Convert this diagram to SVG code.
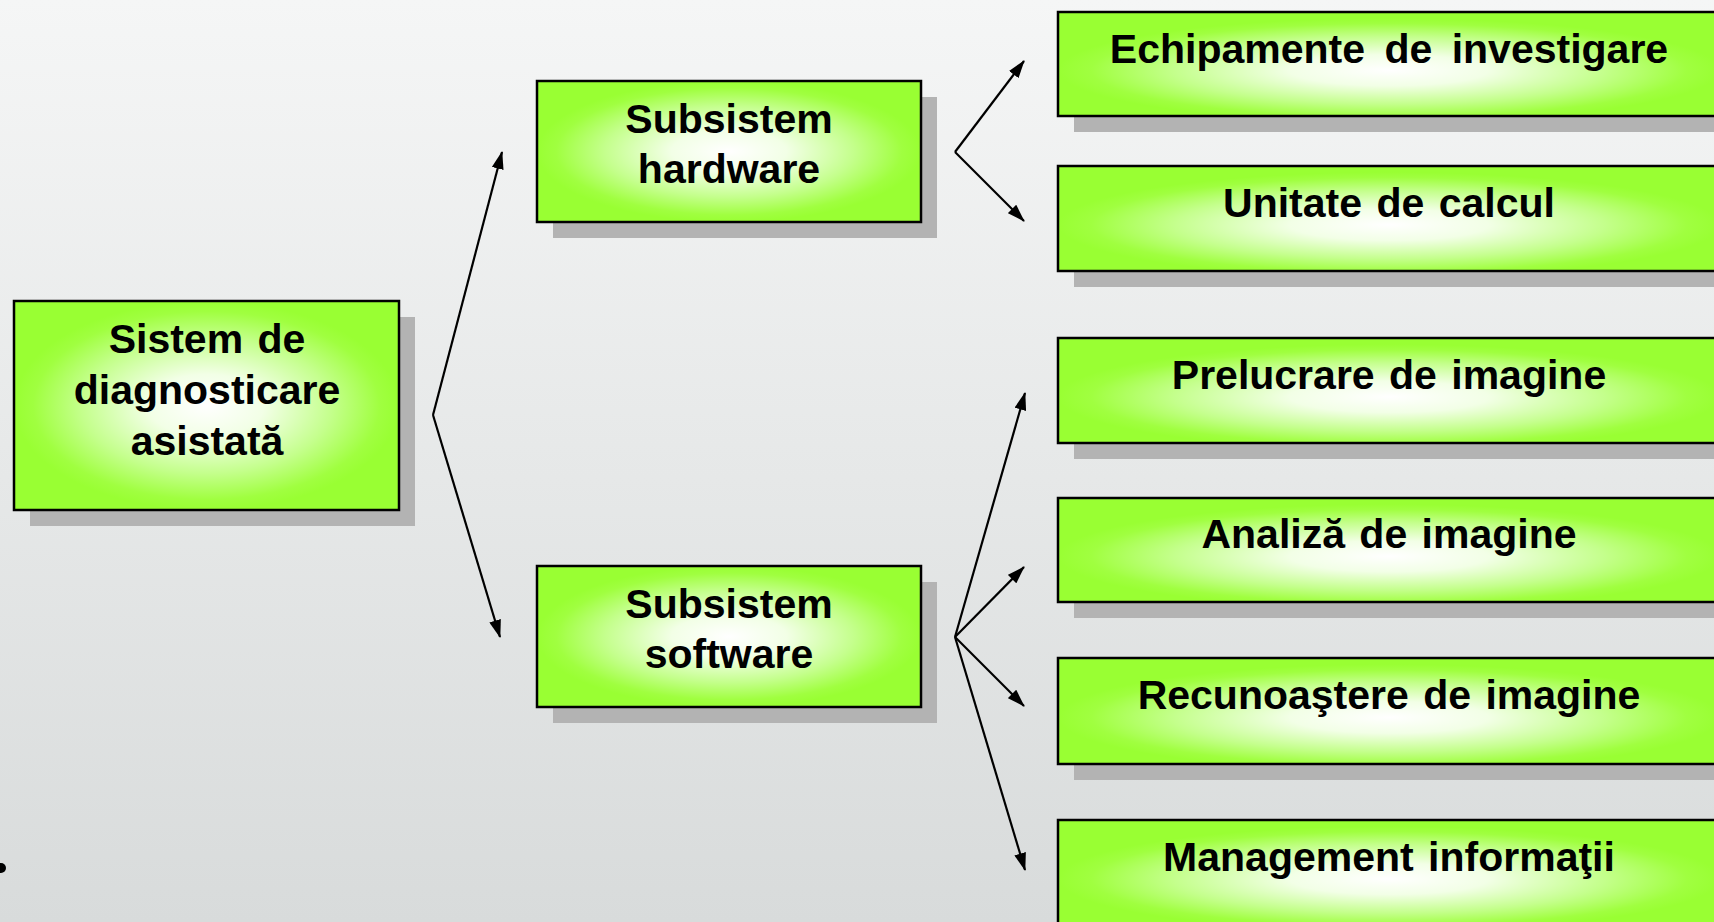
<svg xmlns="http://www.w3.org/2000/svg" width="1714" height="922" viewBox="0 0 1714 922">
<defs>
<linearGradient id="bg" x1="0" y1="0" x2="0" y2="1">
<stop offset="0" stop-color="#f5f6f6"/>
<stop offset="1" stop-color="#d8dbdb"/>
</linearGradient>
<radialGradient id="gC" cx="0.5" cy="0.5" r="0.5">
<stop offset="0" stop-color="#ffffff"/>
<stop offset="0.3" stop-color="#f2ffe6"/>
<stop offset="0.65" stop-color="#c4ff8c"/>
<stop offset="0.9" stop-color="#a0ff40"/>
<stop offset="1" stop-color="#99ff33"/>
</radialGradient>
<radialGradient id="gR" cx="0.5" cy="0.56" r="0.5">
<stop offset="0" stop-color="#ffffff"/>
<stop offset="0.3" stop-color="#f2ffe6"/>
<stop offset="0.65" stop-color="#c4ff8c"/>
<stop offset="0.9" stop-color="#a0ff40"/>
<stop offset="1" stop-color="#99ff33"/>
</radialGradient>
<marker id="ah" markerUnits="userSpaceOnUse" markerWidth="18" markerHeight="12" viewBox="0 0 18 12" refX="17" refY="6" orient="auto">
<path d="M0,0 L18,6 L0,12 z" fill="#000"/>
</marker>
<style>
.sh{fill:#b3b3b3}
.bc{fill:url(#gC);stroke:#000;stroke-width:2.5}
.br{fill:url(#gR);stroke:#000;stroke-width:2.5}
.t{font-family:"Liberation Sans",Arial,sans-serif;font-weight:bold;font-size:41px;fill:#000;text-anchor:middle;word-spacing:3px}
.c{fill:none;stroke:#000;stroke-width:2.2;marker-end:url(#ah)}
</style>
</defs>
<rect x="0" y="0" width="1714" height="922" fill="url(#bg)"/>

<g id="connectors">
<line class="c" x1="433" y1="415" x2="502" y2="152"/>
<line class="c" x1="433" y1="415" x2="500" y2="637"/>
<line class="c" x1="955" y1="152" x2="1024" y2="61"/>
<line class="c" x1="955" y1="152" x2="1024" y2="221"/>
<line class="c" x1="955" y1="637" x2="1025" y2="393"/>
<line class="c" x1="955" y1="637" x2="1024" y2="567"/>
<line class="c" x1="955" y1="637" x2="1024" y2="706"/>
<line class="c" x1="955" y1="637" x2="1025" y2="870"/>
</g>

<g id="n-sistem">
<rect class="sh" x="30" y="317" width="385" height="209"/>
<rect class="bc" x="14" y="301" width="385" height="209"/>
<text class="t" x="207" y="353">Sistem de</text>
<text class="t" x="207" y="404">diagnosticare</text>
<text class="t" x="207" y="455">asistată</text>
</g>

<g id="n-hardware">
<rect class="sh" x="553" y="97" width="384" height="141"/>
<rect class="bc" x="537" y="81" width="384" height="141"/>
<text class="t" x="729" y="133">Subsistem</text>
<text class="t" x="729" y="183">hardware</text>
</g>

<g id="n-software">
<rect class="sh" x="553" y="582" width="384" height="141"/>
<rect class="bc" x="537" y="566" width="384" height="141"/>
<text class="t" x="729" y="618">Subsistem</text>
<text class="t" x="729" y="668">software</text>
</g>

<g id="n-echipamente">
<rect class="sh" x="1074" y="28" width="662" height="104"/>
<rect class="br" x="1058" y="12" width="662" height="104"/>
<text class="t" x="1389" y="63" style="word-spacing:8px">Echipamente de investigare</text>
</g>

<g id="n-unitate">
<rect class="sh" x="1074" y="182" width="662" height="105"/>
<rect class="br" x="1058" y="166" width="662" height="105"/>
<text class="t" x="1389" y="217">Unitate de calcul</text>
</g>

<g id="n-prelucrare">
<rect class="sh" x="1074" y="354" width="662" height="105"/>
<rect class="br" x="1058" y="338" width="662" height="105"/>
<text class="t" x="1389" y="389">Prelucrare de imagine</text>
</g>

<g id="n-analiza">
<rect class="sh" x="1074" y="514" width="662" height="104"/>
<rect class="br" x="1058" y="498" width="662" height="104"/>
<text class="t" x="1389" y="548">Analiză de imagine</text>
</g>

<g id="n-recunoastere">
<rect class="sh" x="1074" y="674" width="662" height="106"/>
<rect class="br" x="1058" y="658" width="662" height="106"/>
<text class="t" x="1389" y="709">Recunoaştere de imagine</text>
</g>

<g id="n-management">
<rect class="sh" x="1074" y="836" width="662" height="105"/>
<rect class="br" x="1058" y="820" width="662" height="105"/>
<text class="t" x="1389" y="871">Management informaţii</text>
</g>

<circle cx="1" cy="868" r="5" fill="#000"/>
</svg>
